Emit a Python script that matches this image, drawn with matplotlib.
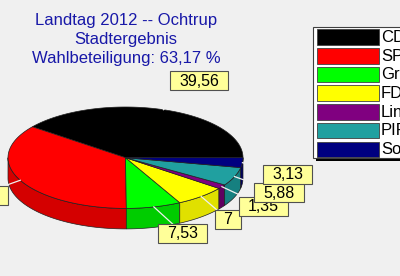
import numpy as np
import matplotlib
matplotlib.use("Agg")
import matplotlib.pyplot as plt
from matplotlib.patches import Polygon, Rectangle

# ---- data ----
parties = ["CDU", "SPD", "Grüne", "FDP", "Linke", "PIRATEN", "Sonstige"]
shares = [39.56, 35.55, 7.53, 7.00, 1.35, 5.88, 3.13]
value_labels = ["39,56", "35,55", "7,53", "7", "1,35", "5,88", "3,13"]
title_lines = ["Landtag 2012 -- Ochtrup", "Stadtergebnis", "Wahlbeteiligung: 63,17 %"]

# ---- styles / layout ----
top_colors = ["#000000", "#ff0000", "#00ff00", "#ffff00", "#800080", "#20a0a0", "#000080"]
side_colors = ["#000000", "#d40000", "#00cc00", "#e0e000", "#600060", "#168080", "#000060"]
W, H = 400, 276
cx, cy, ra, rb, depth = 125.5, 157.7, 117.5, 50.7, 20.5
start = 0.0
label_pos = [(199, 80.5), (-21, 195), (182.5, 233), (228, 219.5), (263.5, 206), (279, 192.5), (287.5, 174)]
label_z = [10, 10, 10, 10, 11, 12, 13]
FONT = "Liberation Sans"

fig = plt.figure(figsize=(4, 2.76), dpi=100, facecolor="#f0f0f0")
ax = fig.add_axes([0, 0, 1, 1])
ax.set_xlim(0, W)
ax.set_ylim(H, 0)
ax.axis("off")


def rim(t, dz=0.0):
    r = np.radians(t)
    return cx + ra * np.cos(r), cy - rb * np.sin(r) + dz


total = sum(shares)
bounds = start + 360.0 * np.concatenate([[0], np.cumsum(shares)]) / total

# side walls (front half only)
for i in range(len(shares)):
    t1, t2 = bounds[i], bounds[i + 1]
    lo, hi = max(t1, 180.0), min(t2, 360.0)
    if lo < hi:
        ts = np.linspace(lo, hi, 60)
        xs, ys = rim(ts)
        xb, yb = rim(ts[::-1], depth)
        pts = np.column_stack([np.concatenate([xs, xb]), np.concatenate([ys, yb])])
        ax.add_patch(Polygon(pts, closed=True, facecolor=side_colors[i],
                             edgecolor="#202020", lw=0.5, zorder=2))

# top faces
for i in range(len(shares)):
    t1, t2 = bounds[i], bounds[i + 1]
    ts = np.linspace(t1, t2, 120)
    xs, ys = rim(ts)
    pts = np.column_stack([np.concatenate([[cx], xs]), np.concatenate([[cy], ys])])
    ax.add_patch(Polygon(pts, closed=True, facecolor=top_colors[i],
                         edgecolor="#202020", lw=0.5, zorder=3))

# leader lines + labels
fig.canvas.draw()
renderer = fig.canvas.get_renderer()
inv = ax.transData.inverted()
for i in range(len(shares)):
    mid = (bounds[i] + bounds[i + 1]) / 2
    x0, y0 = rim(mid)
    lx, ly = label_pos[i]
    ax.plot([x0, lx], [y0, ly], color="#f0f0f0", lw=0.9, zorder=5)
    t = ax.text(lx, ly + 0.5, value_labels[i], fontsize=11.5, family=FONT,
                ha="center", va="center", color="black", zorder=label_z[i] + 0.5)
    bb = t.get_window_extent(renderer)
    (bx0, _), (bx1, _) = inv.transform([[bb.x0, bb.y0], [bb.x1, bb.y1]])
    w = (bx1 - bx0) + 18
    ax.add_patch(Rectangle((lx - w / 2, ly - 9.5), w, 19, facecolor="#ffff99",
                           edgecolor="#505050", lw=0.8, zorder=label_z[i]))

# title
for k, line in enumerate(title_lines):
    ax.text(126, 21 + k * 18.5, line, fontsize=12, family=FONT, color="#1818a8",
            ha="center", va="center", zorder=20)

# legend
lx0, ly0, lw_, lh_ = 313, 27, 100, 131
ax.add_patch(Rectangle((lx0 + 2.5, ly0 + 2.5), lw_, lh_, facecolor="black",
                       edgecolor="none", zorder=20))
ax.add_patch(Rectangle((lx0, ly0), lw_, lh_, facecolor="white",
                       edgecolor="#404040", lw=0.8, zorder=21))
for i, p in enumerate(parties):
    y = 29.3 + i * 18.73
    ax.add_patch(Rectangle((316.5, y), 62, 15.5, facecolor=top_colors[i],
                           edgecolor="#404040", lw=0.6, zorder=22))
    ax.text(381, y + 8, p, fontsize=12, family=FONT, color="black",
            ha="left", va="center", zorder=23)

fig.savefig("out.png", dpi=100, facecolor=fig.get_facecolor())
